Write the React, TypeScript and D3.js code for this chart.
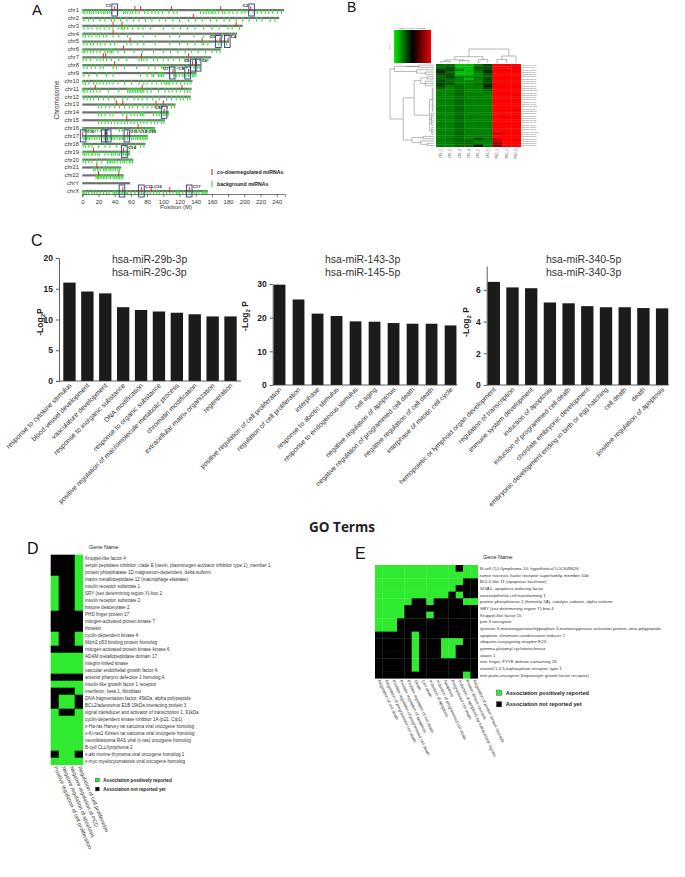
import { useEffect, useRef } from 'react';
import * as d3 from 'd3';

const FONT = 'Liberation Sans, Arial, sans-serif';
const W = 685;
const H = 877;

// ---------- Panel A: chromosome map ----------
const chromosomes = ['chr1', 'chr2', 'chr3', 'chr4', 'chr5', 'chr6', 'chr7', 'chr8', 'chr9', 'chr10', 'chr11', 'chr12',
  'chr13', 'chr14', 'chr15', 'chr16', 'chr17', 'chr18', 'chr19', 'chr20', 'chr21', 'chr22', 'chrY', 'chrX'];
const chromLengths = [249, 243, 198, 191, 181, 171, 159, 146, 141, 136, 135, 134, 115, 107, 102, 90, 81, 78, 59, 63, 48, 51, 59, 155];
const redMarks = [
  [40, 65, 72, 110, 171, 208], [137], [38, 49, 190], [38], [59, 148, 170, 180], [51], [26, 29, 73, 131], [40, 136, 141],
  [112, 131], [], [16, 74, 123], [], [42, 50, 91, 100], [101], [55], [69], [0.5, 28, 30, 56], [], [14, 51], [], [18], [20, 45], [],
  [50, 73, 85, 108, 132],
];
const greenMarks = [
  [1, 3, 6, 9, 11, 14, 17, 20, 23, 26, 28, 31, 34, 36, 44, 51, 53, 56, 59, 62, 66, 70, 77, 81, 86, 90, 94, 99, 107, 113, 117, 146, 150, 153, 156, 159, 161, 164, 168, 173, 176, 181, 186, 191, 197, 201, 205, 212, 216, 221, 226, 230, 235, 241, 246],
  [2, 8, 14, 22, 28, 36, 40, 47, 55, 63, 70, 78, 86, 95, 103, 112, 120, 131, 140, 148, 158, 166, 175, 182, 190, 198, 206, 215, 222, 232, 238],
  [2, 7, 12, 18, 22, 27, 33, 38, 44, 48, 50, 52, 56, 62, 69, 75, 84, 100, 112, 121, 130, 139, 150, 160, 169, 180, 185, 194],
  [1, 4, 8, 12, 17, 21, 26, 30, 38, 45, 56, 75, 90, 108, 120, 138, 150, 160, 173, 184, 189],
  [2, 6, 10, 14, 19, 23, 28, 35, 40, 55, 60, 68, 76, 90, 108, 120, 130, 139, 148, 150, 155, 168, 172, 178],
  [1, 3, 6, 10, 14, 18, 22, 28, 31, 34, 36, 38, 44, 52, 64, 74, 88, 100, 109, 118, 127, 135, 143, 152, 160, 166, 170],
  [1, 5, 10, 18, 22, 26, 30, 36, 45, 55, 70, 73, 76, 80, 88, 93, 100, 106, 113, 120, 127, 130, 136, 140, 145, 150, 155],
  [2, 6, 11, 16, 22, 26, 38, 42, 52, 67, 82, 90, 98, 100, 103, 108, 113, 118, 124, 129, 134, 138, 142, 145],
  [2, 8, 18, 30, 38, 72, 80, 86, 88, 94, 96, 98, 100, 108, 113, 116, 120, 124, 126, 128, 131, 133, 136, 138, 140],
  [1, 4, 8, 14, 18, 22, 26, 30, 34, 38, 44, 52, 61, 70, 76, 80, 86, 92, 98, 102, 104, 106, 108, 112, 116, 121, 126, 130, 134],
  [1, 3, 6, 10, 14, 18, 22, 32, 45, 56, 58, 60, 62, 64, 66, 68, 70, 72, 74, 76, 80, 85, 94, 102, 107, 111, 116, 121, 126, 130, 133],
  [2, 6, 10, 14, 20, 26, 32, 40, 50, 56, 64, 69, 74, 80, 87, 95, 104, 110, 116, 121, 125, 130, 133],
  [20, 24, 29, 34, 40, 46, 52, 58, 62, 68, 75, 80, 86, 90, 95, 99, 105, 110, 114],
  [20, 24, 28, 34, 38, 50, 55, 60, 64, 68, 72, 74, 76, 88, 92, 95, 98, 100, 102, 104, 106],
  [20, 24, 28, 32, 36, 40, 44, 48, 52, 56, 60, 64, 68, 72, 76, 80, 85, 89, 93, 98, 101],
  [1, 3, 5, 8, 12, 16, 19, 23, 28, 30, 46, 50, 56, 62, 66, 70, 74, 78, 80, 84, 86, 88, 89],
  [1, 3, 5, 7, 9, 12, 15, 18, 21, 24, 27, 29, 31, 33, 36, 38, 40, 43, 46, 48, 50, 53, 56, 58, 61, 63, 66, 68, 70, 72, 74, 76, 78, 80],
  [1, 4, 8, 12, 20, 28, 34, 42, 48, 54, 60, 66, 72, 76],
  [1, 3, 5, 8, 11, 13, 16, 19, 21, 28, 32, 36, 38, 41, 44, 46, 49, 51, 53, 55, 57, 58],
  [1, 4, 8, 12, 18, 24, 31, 33, 35, 37, 40, 43, 47, 50, 52, 55, 58, 60, 62],
  [14, 16, 19, 22, 26, 28, 30, 33, 35, 38, 41, 44, 46],
  [17, 19, 20, 22, 24, 26, 28, 30, 33, 35, 38, 40, 42, 44, 46, 48, 50],
  [],
  [1, 3, 5, 8, 12, 15, 18, 22, 26, 30, 33, 38, 40, 42, 45, 48, 50, 52, 54, 56, 60, 65, 70, 73, 76, 80, 84, 88, 92, 95, 100, 104, 108, 112, 116, 118, 120, 124, 128, 132, 135, 138, 141, 144, 148, 150, 152, 154],
];
const clusterBoxes: [string, number][] = [
  ['chr1', 40], ['chr1', 209], ['chr5', 168], ['chr5', 179], ['chr8', 137], ['chr8', 143], ['chr9', 111], ['chr9', 130],
  ['chr14', 101], ['chr17', 1], ['chr17', 27], ['chr17', 32], ['chr17', 55], ['chr19', 52], ['chrX', 49], ['chrX', 73], ['chrX', 132],
];
const clusterLabels: [string, string, number, string][] = [
  ['C1', 'chr1', 40, 'l'], ['C2', 'chr1', 209, 'l'], ['C3', 'chr5', 168, 'l'], ['C4', 'chr5', 179, 'r'],
  ['C5', 'chr8', 137, 'l'], ['C6', 'chr8', 143, 'r'], ['C7', 'chr9', 111, 'l'], ['C8', 'chr9', 130, 'l'],
  ['C9', 'chr14', 101, 'l'], ['C10', 'chr17', 1, 'r'], ['C11,C12,C13', 'chr17', 55, 'r'], ['C14', 'chr19', 52, 'r'],
  ['C15,C16', 'chrX', 73, 'r'], ['C17', 'chrX', 132, 'r'],
];
const positionTicks = [0, 20, 40, 60, 80, 100, 120, 140, 160, 180, 200, 220, 240];

// ---------- Panel B: heatmap ----------
const heatSamples = ['CRL_1', 'CRL_2', 'CRL_3', 'CRL_4', 'CRL_5', 'CRL_6', 'PBC_1', 'PBC_2', 'PBC_3'];
const heatMirnas = ['hsa-miR-144-3p', 'hsa-miR-451a', 'hsa-miR-486-5p', 'hsa-miR-16-5p', 'hsa-miR-15b-5p', 'hsa-miR-185-5p',
  'hsa-miR-19b-3p', 'hsa-miR-142-3p', 'hsa-miR-101-3p', 'hsa-miR-126-3p', 'hsa-miR-150-5p', 'hsa-miR-181a-5p',
  'hsa-miR-29b-3p', 'hsa-miR-29c-3p', 'hsa-miR-143-3p', 'hsa-miR-145-5p', 'hsa-miR-340-5p', 'hsa-miR-340-3p',
  'hsa-miR-199a-5p', 'hsa-miR-21-5p', 'hsa-miR-223-3p', 'hsa-miR-26a-5p', 'hsa-miR-27b-3p', 'hsa-miR-30a-5p',
  'hsa-miR-30c-5p', 'hsa-miR-30e-5p', 'hsa-miR-32-5p', 'hsa-miR-338-3p', 'hsa-miR-342-3p', 'hsa-miR-374a-5p',
  'hsa-miR-425-5p', 'hsa-miR-532-5p', 'hsa-miR-542-3p', 'hsa-miR-576-5p', 'hsa-miR-590-5p', 'hsa-miR-651-5p'];
// level codes: a bright green .. e near black, R bright red .. P dark red
const heatLevels: Record<string, number> = { a: -2.2, b: -1.5, c: -1.25, d: -0.85, e: -0.35, R: 3, Q: 2.5, P: 1.8 };
const heatRows = [
  'ccaabdRRR', 'cdaaddRRQ', 'ddbacdRRR', 'ecaabeRRR', 'ddaabdRRR', 'cdbbbcRRR', 'ccbabdRRR', 'dcbbbdRRR', 'ddbbcdRRR',
  'dbcbbeRRR', 'cbcbbdRRR', 'bbcbbcRRR', 'bbcbbbRRR', 'bbcbbbRRR', 'bbcbbbRRR', 'bbcbbbRRR', 'bbcbbbRRR', 'bbcbbbRRR',
  'bbcbbbRRR', 'bbcbbbRRR', 'bbcbbbRRR', 'bbcbbbRRR', 'bbcbbbRRR', 'bbcbbbRRR', 'bbcbbbRRR', 'bbcbbbRRR', 'bbcbbbRRR',
  'bbcbbbRRR', 'bbcbbbRRR', 'bbcbbbRRR', 'bbcbbbQRR', 'bbcbbbRRR', 'bccbdbQRR', 'bbccbbQRR', 'bbccbbPRR', 'bbccebPRR',
];
type Tree = number | { h: number; c: Tree[] };
const colTree: Tree = { h: 1, c: [
  { h: 0.45, c: [{ h: 0.22, c: [{ h: 0.12, c: [0, 1] }, { h: 0.18, c: [2, 3] }] }, { h: 0.25, c: [4, 5] }] },
  { h: 0.5, c: [{ h: 0.25, c: [6, 7] }, 8] },
] };
const rowTree: Tree = { h: 1, c: [
  { h: 0.9, c: [{ h: 0.35, c: [0, 1] }, { h: 0.4, c: [2, { h: 0.2, c: [3, 4] }] }] },
  { h: 0.7, c: [
    { h: 0.45, c: [
      { h: 0.3, c: [{ h: 0.15, c: [5, 6] }, { h: 0.2, c: [7, 8, 9] }] },
      { h: 0.1, c: [{ h: 0.04, c: [10, 11, 12, 13, 14, 15, 16, 17, 18, 19, 20] }, { h: 0.06, c: [21, 22, 23, 24, 25, 26] }, { h: 0.05, c: [27, 28, 29, 30] }] },
    ] },
    { h: 0.5, c: [{ h: 0.25, c: [31, 32] }, { h: 0.3, c: [33, { h: 0.15, c: [34, 35] }] }] },
  ] },
] };

// ---------- Panel C: GO bar charts ----------
const goTerms1 = ['response to cytokine stimulus', 'blood vessel development', 'vasculature development',
  'response to inorganic substance', 'DNA modification', 'response to organic substance',
  'positive regulation of macromolecule metabolic process', 'chromatin modification',
  'extracellular matrix organization', 'regeneration'];
const goValues1 = [16.0, 14.55, 14.25, 12.0, 11.55, 11.3, 11.1, 10.85, 10.5, 10.5];
const goTerms2 = ['positive regulation of cell proliferation', 'regulation of cell proliferation', 'interphase',
  'response to abiotic stimulus', 'response to endogenous stimulus', 'cell aging', 'negative regulation of apoptosis',
  'negative regulation of programmed cell death', 'negative regulation of cell death', 'interphase of mitotic cell cycle'];
const goValues2 = [29.8, 25.4, 21.2, 20.5, 18.9, 18.8, 18.4, 18.2, 18.2, 17.7];
const goTerms3 = ['hemopoietic or lymphoid organ development', 'regulation of transcription', 'immune system development',
  'induction of apoptosis', 'induction of programmed cell death', 'chordate embryonic development',
  'embryonic development ending in birth or egg hatching', 'cell death', 'death', 'positive regulation of apoptosis'];
const goValues3 = [6.5, 6.15, 6.1, 5.2, 5.15, 4.97, 4.9, 4.9, 4.85, 4.83];

// ---------- Panel D ----------
const genesD = ['Kruppel-like factor 4',
  'serpin peptidase inhibitor, clade E (nexin, plasminogen activator inhibitor type 1), member 1',
  'protein phosphatase 1D magnesium-dependent, delta isoform', 'matrix metallopeptidase 12 (macrophage elastase)',
  'insulin receptor substrate 1', 'SRY (sex determining region Y)-box 2', 'insulin receptor substrate 2',
  'histone deacetylase 2', 'PHD finger protein 17', 'mitogen-activated protein kinase 7', 'rhotekin',
  'cyclin-dependent kinase 4', 'Mdm2 p53 binding protein homolog', 'mitogen-activated protein kinase kinase 6',
  'ADAM metallopeptidase domain 17', 'integrin-linked kinase', 'vascular endothelial growth factor A',
  'anterior pharynx defective 1 homolog A', 'insulin-like growth factor 1 receptor', 'interferon, beta 1, fibroblast',
  'DNA fragmentation factor, 45kDa, alpha polypeptide', 'BCL2/adenovirus E1B 19kDa interacting protein 3',
  'signal transducer and activator of transcription 1, 91kDa', 'cyclin-dependent kinase inhibitor 1A (p21, Cip1)',
  'v-Ha-ras Harvey rat sarcoma viral oncogene homolog', 'v-Ki-ras2 Kirsten rat sarcoma viral oncogene homolog',
  'neuroblastoma RAS viral (v-ras) oncogene homolog', 'B-cell CLL/lymphoma 2',
  'v-akt murine thymoma viral oncogene homolog 1', 'v-myc myelocytomatosis viral oncogene homolog'];
const termsD = ['Positive regulation of cell proliferation', 'Negative regulation of apoptosis',
  'Negative regulation of PCD', 'Regulation of cell proliferation'];
const assocD = ['0001', '0001', '0001', '1001', '1001', '1001', '1001', '1001', '0000', '0000', '0000', '1001', '1001',
  '0000', '1111', '1111', '1111', '0000', '1111', '0001', '0110', '0110', '1001', '1111', '1111', '1111', '1111', '1111',
  '0110', '1111'];

// ---------- Panel E ----------
const genesE = ['B-cell CLL/lymphoma 10; hypothetical LOC649626', 'tumor necrosis factor receptor superfamily, member 10b',
  'BCL2-like 11 (apoptosis facilitator)', 'SIVA1, apoptosis-inducing factor', 'neuroepithelial cell transforming 1',
  'protein phosphatase 2 (formerly 2A), catalytic subunit, alpha isoform', 'SRY (sex determining region Y)-box 4',
  'Kruppel-like factor 10', 'pim-3 oncogene',
  'tyrosine 3-monooxygenase/tryptophan 5-monooxygenase activation protein, zeta polypeptide',
  'apoptotic chromatin condensation inducer 1', 'ubiquitin-conjugating enzyme E2Z', 'gamma-glutamyl cyclotransferase',
  'ataxin 1', 'zinc finger, FYVE domain containing 26', 'inositol 1,4,5-triphosphate receptor, type 1',
  'met proto-oncogene (hepatocyte growth factor receptor)'];
const termsE = ['Regulation of cell death', 'Regulation of programmed cell death',
  'Positive regulation of programmed cell death', 'Positive regulation of apoptosis', 'Positive regulation of cell death',
  'Death', 'Cell death', 'Induction of apoptosis', 'Induction of programmed cell death', 'Apoptosis',
  'Programmed cell death', 'Induction of apoptosis by extracellular signals', 'Protein kinase cascade',
  'Regulation of protein kinase cascade'];
const assocE = ['11111111111011', '11111111111111', '11111111111100', '11111111111000', '11111111110100',
  '11111001000011', '11110000000000', '11110001000000', '11100000000000', '11100000000000', '00000100000000',
  '00000100011100', '00000100011000', '00000100011000', '00000100000000', '00000100000000', '00000000000010'];

const GREEN = '#2fea2f';

type Sel = d3.Selection<SVGGElement, unknown, null, undefined>;

function letter(g: Sel, x: number, y: number, t: string, size = 15) {
  g.append('text').attr('x', x).attr('y', y).attr('font-size', size).attr('fill', '#111').text(t);
}

function drawA(g: Sel) {
  letter(g, 32, 15, 'A');
  const y = d3.scalePoint().domain(chromosomes).range([10, 191]);
  const x = d3.scaleLinear().domain([0, 250]).range([82.3, 284.8]);
  chromosomes.forEach((c, i) => {
    const cy = y(c)!;
    g.append('text').attr('x', 79).attr('y', cy + 2).attr('text-anchor', 'end').attr('font-size', 5.8)
      .attr('fill', '#333').text(c);
    g.append('rect').attr('x', x(0)).attr('y', cy - 1).attr('width', x(chromLengths[i]) - x(0)).attr('height', 2.2)
      .attr('fill', '#707070');
    g.append('g').selectAll('line').data(greenMarks[i]).join('line')
      .attr('x1', d => x(d)).attr('x2', d => x(d)).attr('y1', cy - 0.5).attr('y2', cy + 4)
      .attr('stroke', '#3ddc3d').attr('stroke-width', 1.1);
    g.append('g').selectAll('line').data(redMarks[i]).join('line')
      .attr('x1', d => x(d)).attr('x2', d => x(d)).attr('y1', cy - 4).attr('y2', cy + 1)
      .attr('stroke', '#e02a2a').attr('stroke-width', 1);
  });
  g.append('g').selectAll('rect').data(clusterBoxes).join('rect')
    .attr('x', d => x(d[1]) - 2.8).attr('y', d => y(d[0])! - 6).attr('width', 5.6).attr('height', 12)
    .attr('fill', 'none').attr('stroke', '#2a3a86').attr('stroke-width', 0.9);
  g.append('g').selectAll('text').data(clusterLabels).join('text')
    .attr('x', d => (d[3] === 'l' ? x(d[2]) - 3.5 : x(d[2]) + 3.5)).attr('y', d => y(d[1])! - 3)
    .attr('text-anchor', d => (d[3] === 'l' ? 'end' : 'start'))
    .attr('font-size', 4.3).attr('font-weight', 'bold').attr('fill', '#222').text(d => d[0]);

  const axis = g.append('g').attr('transform', 'translate(0,194)')
    .call(d3.axisBottom(x).tickValues(positionTicks).tickSize(3).tickSizeOuter(3));
  axis.selectAll('text').attr('font-size', 6).attr('font-family', FONT).attr('fill', '#333').attr('dy', '0.6em');
  axis.selectAll('path,line').attr('stroke', '#444').attr('stroke-width', 0.7);
  g.append('text').attr('x', 176).attr('y', 209).attr('text-anchor', 'middle').attr('font-size', 6).attr('fill', '#333')
    .text('Position (M)');
  g.append('text').attr('transform', 'translate(59,100) rotate(-90)').attr('text-anchor', 'middle')
    .attr('font-size', 6.5).attr('fill', '#333').text('Chromosome');

  g.append('line').attr('x1', 212).attr('x2', 212).attr('y1', 169).attr('y2', 175).attr('stroke', '#e02a2a').attr('stroke-width', 1.2);
  g.append('text').attr('x', 217).attr('y', 174).attr('font-size', 5.2).attr('font-weight', 'bold').attr('fill', '#222')
    .text('co-downregulated miRNAs');
  g.append('line').attr('x1', 212).attr('x2', 212).attr('y1', 181).attr('y2', 187).attr('stroke', '#3ddc3d').attr('stroke-width', 1.2);
  g.append('text').attr('x', 217).attr('y', 186).attr('font-size', 5.2).attr('font-weight', 'bold').attr('fill', '#222')
    .text('background miRNAs');
}

function drawDendro(g: Sel, tree: Tree, leafPos: (i: number) => number, hPos: (h: number) => number, vertical: boolean) {
  const root = d3.hierarchy(tree as any, (d: any) => (typeof d === 'number' ? null : d.c));
  const pos = new Map<any, number>();
  root.eachAfter((n: any) => {
    if (!n.children) pos.set(n, leafPos(n.data));
    else pos.set(n, (pos.get(n.children[0])! + pos.get(n.children[n.children.length - 1])!) / 2);
  });
  const h = (n: any) => (typeof n.data === 'number' ? 0 : n.data.h);
  const segs: [number, number, number, number][] = [];
  root.each((n: any) => {
    if (!n.children) return;
    const a = hPos(h(n));
    segs.push([pos.get(n.children[0])!, a, pos.get(n.children[n.children.length - 1])!, a]);
    n.children.forEach((c: any) => segs.push([pos.get(c)!, a, pos.get(c)!, hPos(h(c))]));
  });
  g.append('g').selectAll('line').data(segs).join('line')
    .attr(vertical ? 'x1' : 'y1', d => d[0]).attr(vertical ? 'y1' : 'x1', d => d[1])
    .attr(vertical ? 'x2' : 'y2', d => d[2]).attr(vertical ? 'y2' : 'x2', d => d[3])
    .attr('stroke', '#888').attr('stroke-width', 0.6);
}

function drawB(g: Sel) {
  letter(g, 347, 12, 'B', 14);
  const x = d3.scaleBand<number>().domain(d3.range(heatSamples.length)).range([436, 520.7]);
  const y = d3.scaleBand<number>().domain(d3.range(heatRows.length)).range([64, 146.7]);
  const color = d3.scaleLinear<string>().domain([-3, 0, 3]).range(['#00ff00', '#000000', '#ff0000']);
  const cells = heatRows.flatMap((r, i) => r.split('').map((ch, j) => ({ i, j, v: heatLevels[ch] })));
  g.append('g').selectAll('rect').data(cells).join('rect')
    .attr('x', d => x(d.j)!).attr('y', d => y(d.i)!).attr('width', x.bandwidth() + 0.3).attr('height', y.bandwidth() + 0.3)
    .attr('fill', d => color(d.v));
  g.append('g').selectAll('text').data(heatMirnas).join('text')
    .attr('x', 521.5).attr('y', (_, i) => y(i)! + y.bandwidth() - 0.3).attr('font-size', 2.1).attr('fill', '#555').text(d => d);
  g.append('g').selectAll('text').data(heatSamples).join('text')
    .attr('transform', (_, i) => `translate(${x(i)! + x.bandwidth() / 2 + 1},149) rotate(-90)`)
    .attr('text-anchor', 'end').attr('font-size', 3).attr('fill', '#444').text(d => d);
  drawDendro(g, colTree, i => x(i)! + x.bandwidth() / 2, h => 63 - h * 14, true);
  drawDendro(g, rowTree, i => y(i)! + y.bandwidth() / 2, h => 434 - h * 44, false);

  const defs = g.append('defs');
  const grad = defs.append('linearGradient').attr('id', 'ckey');
  grad.append('stop').attr('offset', '0%').attr('stop-color', '#00ee00');
  grad.append('stop').attr('offset', '50%').attr('stop-color', '#000000');
  grad.append('stop').attr('offset', '100%').attr('stop-color', '#ee0000');
  g.append('rect').attr('x', 394).attr('y', 30).attr('width', 37).attr('height', 33).attr('fill', 'url(#ckey)');
  g.append('text').attr('x', 412.5).attr('y', 28.5).attr('text-anchor', 'middle').attr('font-size', 2.4).attr('fill', '#444')
    .text('Color Key and Histogram');
  g.append('text').attr('x', 412.5).attr('y', 66.5).attr('text-anchor', 'middle').attr('font-size', 2.2).attr('fill', '#444')
    .text('Row Z-Score');
  g.append('text').attr('transform', 'translate(390,46.5) rotate(-90)').attr('text-anchor', 'middle').attr('font-size', 2.2)
    .attr('fill', '#444').text('Count');
}

interface BarCfg {
  terms: string[]; values: number[]; x0: number; x1: number; base: number; top: number; max: number; ticks: number[];
  pi: number; po: number; titleX: number; titles: string[]; yTitleX: number; yTitleY: number; space: boolean;
}

function drawBars(g: Sel, c: BarCfg) {
  const x = d3.scaleBand<string>().domain(c.terms).range([c.x0, c.x1]).paddingInner(c.pi).paddingOuter(c.po);
  const y = d3.scaleLinear().domain([0, c.max]).range([c.base, c.top]);
  g.append('g').selectAll('rect').data(c.values).join('rect')
    .attr('x', (_, i) => x(c.terms[i])!).attr('y', d => y(d)).attr('width', x.bandwidth())
    .attr('height', d => y(0) - y(d)).attr('fill', '#1b1b1b');
  const ya = g.append('g').attr('transform', `translate(${c.x0},0)`)
    .call(d3.axisLeft(y).tickValues(c.ticks).tickSize(3).tickSizeOuter(0));
  ya.selectAll('text').attr('font-size', 8.5).attr('font-weight', 'bold').attr('font-family', FONT).attr('fill', '#222');
  ya.selectAll('path,line').attr('stroke', '#333').attr('stroke-width', 0.8);
  g.append('line').attr('x1', c.x0).attr('x2', c.x1).attr('y1', c.base).attr('y2', c.base)
    .attr('stroke', '#333').attr('stroke-width', 0.8);
  g.append('g').selectAll('text').data(c.terms).join('text')
    .attr('transform', d => `translate(${x(d)! + x.bandwidth() / 2 + 2.5},${c.base + 5}) rotate(-45)`)
    .attr('text-anchor', 'end').attr('font-size', 6.8).attr('fill', '#333').text(d => d);
  c.titles.forEach((t, i) => {
    g.append('text').attr('x', c.titleX).attr('y', 263 + i * 12.5).attr('font-size', 10.5).attr('fill', '#333').text(t);
  });
  const yt = g.append('text').attr('transform', `translate(${c.yTitleX},${c.yTitleY}) rotate(-90)`)
    .attr('text-anchor', 'middle').attr('font-size', 8.5).attr('font-weight', 'bold').attr('fill', '#222');
  yt.append('tspan').text('-Log');
  yt.append('tspan').attr('font-size', 6).attr('dy', 2.2).text('2');
  yt.append('tspan').attr('dy', -2.2).text(c.space ? ' P' : 'P');
}

function drawC(g: Sel) {
  letter(g, 31, 246, 'C', 16);
  drawBars(g, { terms: goTerms1, values: goValues1, x0: 59, x1: 241, base: 381, top: 258, max: 20, ticks: [0, 5, 10, 15, 20],
    pi: 0.31, po: 0.24, titleX: 112, titles: ['hsa-miR-29b-3p', 'hsa-miR-29c-3p'], yTitleX: 43, yTitleY: 322, space: false });
  drawBars(g, { terms: goTerms2, values: goValues2, x0: 272.7, x1: 457.4, base: 385, top: 284, max: 30, ticks: [0, 10, 20, 30],
    pi: 0.38, po: 0.05, titleX: 325, titles: ['hsa-miR-143-3p', 'hsa-miR-145-5p'], yTitleX: 248, yTitleY: 316, space: true });
  drawBars(g, { terms: goTerms3, values: goValues3, x0: 486.7, x1: 669.2, base: 385, top: 266, max: 7.5, ticks: [0, 2, 4, 6],
    pi: 0.34, po: 0.05, titleX: 546, titles: ['hsa-miR-340-5p', 'hsa-miR-340-3p'], yTitleX: 469, yTitleY: 322, space: true });
  g.append('text').attr('x', 342).attr('y', 532).attr('text-anchor', 'middle').attr('font-family', 'Open Sans, sans-serif')
    .attr('font-size', 13.5).attr('font-weight', 'bold').attr('fill', '#222').text('GO Terms');
}

function drawAssoc(g: Sel, o: {
  genes: string[]; terms: string[]; assoc: string[]; x0: number; x1: number; y0: number; y1: number; geneX: number;
  geneFont: number; termFont: number; termAngle: number; headX: number; headY: number;
  legX: number; legY: number; legGap: number; legSize: number; legFont: number;
}) {
  const x = d3.scaleBand<number>().domain(d3.range(o.terms.length)).range([o.x0, o.x1]);
  const y = d3.scaleBand<number>().domain(d3.range(o.genes.length)).range([o.y0, o.y1]);
  const cells = o.assoc.flatMap((r, i) => r.split('').map((ch, j) => ({ i, j, v: ch === '1' })));
  g.append('g').selectAll('rect').data(cells).join('rect')
    .attr('x', d => x(d.j)!).attr('y', d => y(d.i)!).attr('width', x.bandwidth() + 0.3).attr('height', y.bandwidth() + 0.3)
    .attr('fill', d => (d.v ? GREEN : '#000'));
  g.append('text').attr('x', o.headX).attr('y', o.headY).attr('font-size', 5.5).attr('fill', '#222').text('Gene Name');
  g.append('g').selectAll('text').data(o.genes).join('text')
    .attr('x', o.geneX).attr('y', (_, i) => y(i)! + y.bandwidth() / 2 + o.geneFont * 0.35)
    .attr('font-size', o.geneFont).attr('fill', '#333').text(d => d);
  g.append('g').selectAll('text').data(o.terms).join('text')
    .attr('transform', (_, j) => `translate(${x(j)! + x.bandwidth() / 2 - 1},${o.y1 + 2.5}) rotate(${o.termAngle})`)
    .attr('font-size', o.termFont).attr('fill', '#333').text(d => d);
  const leg = [['Association positively reported', GREEN], ['Association not reported yet', '#000']];
  leg.forEach(([t, col], k) => {
    const ly = o.legY + k * o.legGap;
    g.append('rect').attr('x', o.legX).attr('y', ly - o.legSize / 2).attr('width', o.legSize).attr('height', o.legSize)
      .attr('fill', col).attr('stroke', '#333').attr('stroke-width', 0.4);
    g.append('text').attr('x', o.legX + o.legSize + 4).attr('y', ly + o.legFont * 0.35).attr('font-size', o.legFont)
      .attr('font-weight', 'bold').attr('fill', '#222').text(t);
  });
}

function drawD(g: Sel) {
  letter(g, 27, 554, 'D', 16);
  drawAssoc(g, { genes: genesD, terms: termsD, assoc: assocD, x0: 50.7, x1: 82.7, y0: 554.7, y1: 764.7, geneX: 85,
    geneFont: 4.6, termFont: 5.4, termAngle: 67, headX: 89, headY: 549, legX: 95.5, legY: 780, legGap: 9, legSize: 3.8,
    legFont: 4.6 });
}

function drawE(g: Sel) {
  letter(g, 355, 559, 'E', 16);
  drawAssoc(g, { genes: genesE, terms: termsE, assoc: assocE, x0: 375, x1: 477.7, y0: 565, y1: 678.3, geneX: 480,
    geneFont: 4.4, termFont: 4.2, termAngle: 65, headX: 483, headY: 558.5, legX: 496.5, legY: 692.7, legGap: 11.6,
    legSize: 5.2, legFont: 5.6 });
}

export default function App() {
  const ref = useRef<SVGSVGElement>(null);

  useEffect(() => {
    const svg = d3.select(ref.current!);
    svg.selectAll('*').remove();
    svg.append('rect').attr('width', W).attr('height', H).attr('fill', '#fff');
    const root = svg.append('g') as unknown as Sel;
    drawA(root);
    drawB(root);
    drawC(root);
    drawD(root);
    drawE(root);
  }, []);

  return (
    <svg ref={ref} width={W} height={H}
      style={{ position: 'absolute', left: 0, top: 0, fontFamily: FONT }} />
  );
}
